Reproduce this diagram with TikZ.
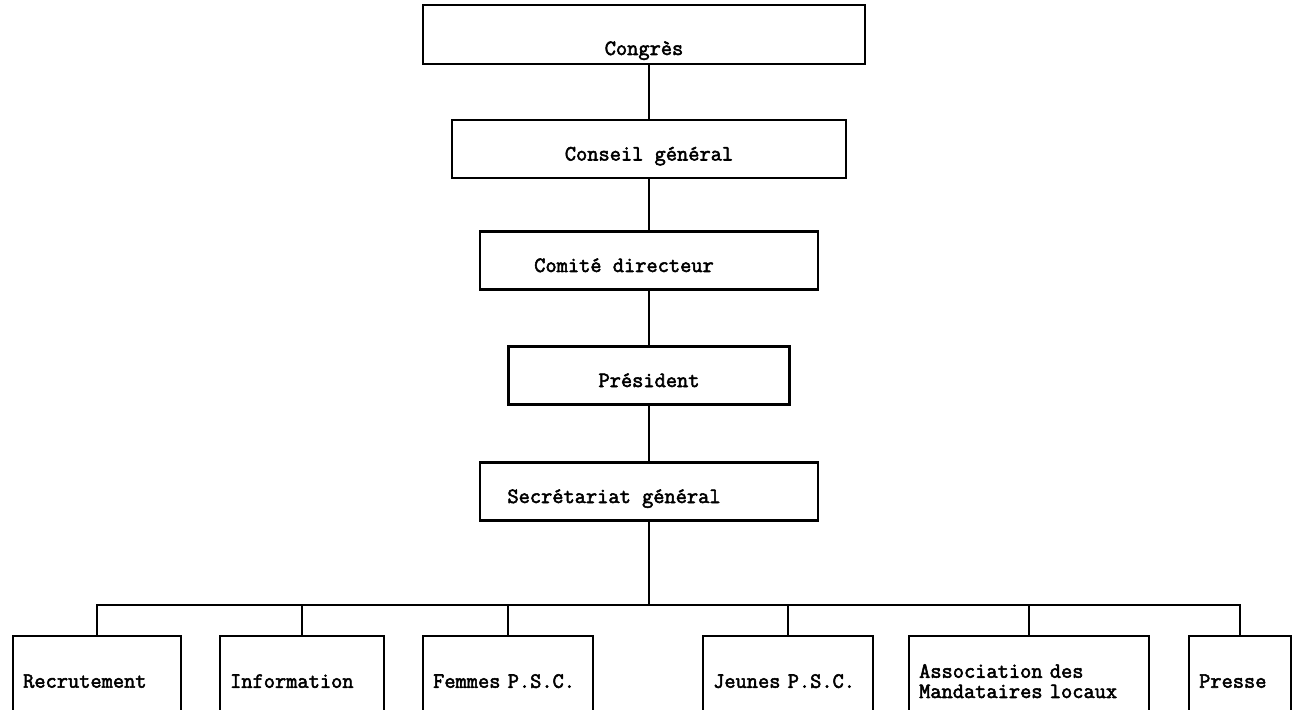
\documentclass[tikz,border=0pt]{standalone}
\usepackage{fontspec}
\newfontfamily\machine{Latin Modern Mono}[FakeBold=2.5,WordSpace={1,0,0}]
\begin{document}
\begin{tikzpicture}[x=0.02cm,y=-0.02cm,
  every node/.style={font=\machine\fontsize{12.4}{11.5}\selectfont},
  organe/.style={draw,line width=1.3pt,minimum height=1.16cm,text height=0.46cm,text depth=0pt,inner sep=0pt},
  service/.style={draw,line width=1.3pt,anchor=north west,minimum height=1.8cm,align=left,inner xsep=0.2cm,inner ysep=0pt}]
 \useasboundingbox (0,0) rectangle (1293,709);
 \node[organe,minimum width=8.84cm,minimum height=1.18cm,text height=0.82cm] (congres) at (644,34.5) {Congrès};
 \node[organe,minimum width=7.88cm] (conseil) at (649,149) {Conseil général};
 \node[organe,minimum width=6.76cm] (comite) at (649,260.5) {Comité directeur\hspace*{1cm}};
 \node[organe,minimum width=5.62cm] (president) at (649,375.5) {Président};
 \node[organe,minimum width=6.76cm] (secretariat) at (649,491.5) {Secrétariat général\hspace*{1.4cm}};
 \node[service,text width=2.96cm] (recrutement) at (12,635) {Recrutement};
 \node[service,text width=2.88cm] (information) at (219,635) {Information};
 \node[service,text width=3cm] (femmes) at (422,635) {Femmes P.S.C.};
 \node[service,text width=3cm] (jeunes) at (702,635) {Jeunes P.S.C.};
 \node[service,text width=4.4cm] (association) at (908,635) {Association des\\Mandataires locaux};
 \node[service,text width=1.64cm] (presse) at (1188,635) {Presse};
 \coordinate (bus) at (649,605);
 \draw[line width=1.3pt] (congres.south -| conseil) -- (conseil);
 \draw[line width=1.3pt] (conseil) -- (comite);
 \draw[line width=1.3pt] (comite) -- (president);
 \draw[line width=1.3pt] (president) -- (secretariat);
 \draw[line width=1.3pt] (secretariat) -- (bus);
 \foreach \s in {recrutement,information,femmes,jeunes,association,presse}
   \draw[line width=1.3pt] (bus) -| (\s.north);
\end{tikzpicture}
\end{document}
